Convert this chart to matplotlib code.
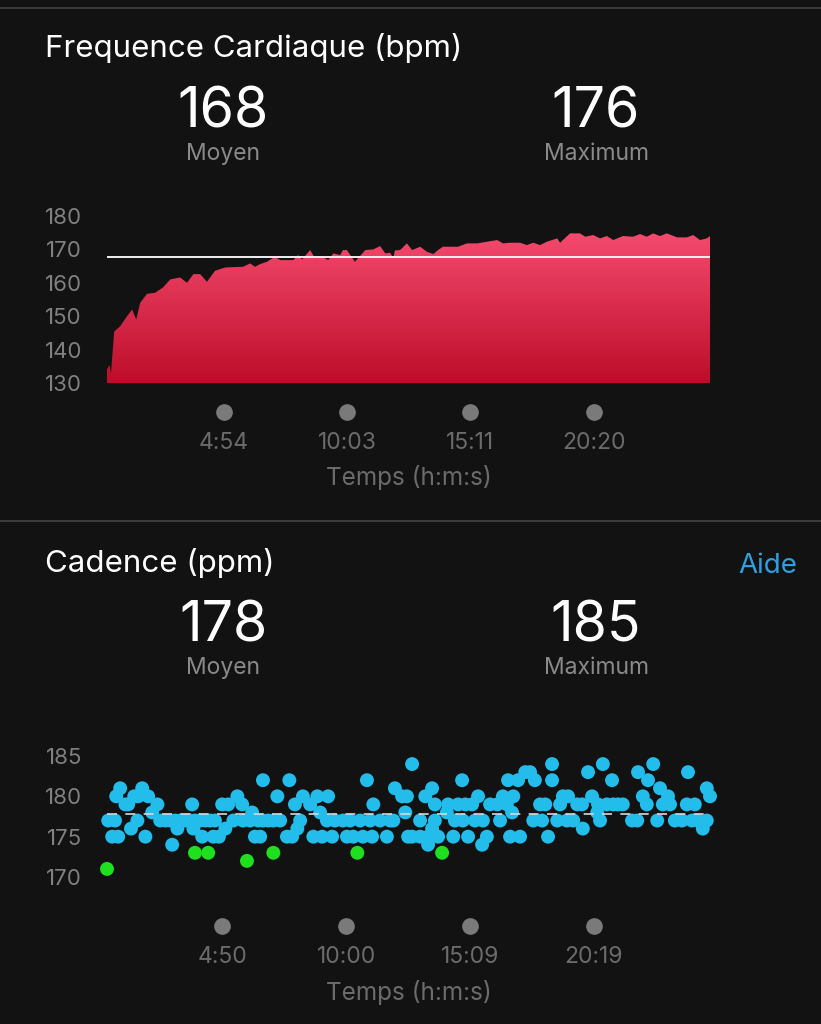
import numpy as np
import matplotlib
matplotlib.use("Agg")
import matplotlib.pyplot as plt
from matplotlib.colors import LinearSegmentedColormap
from matplotlib.transforms import blended_transform_factory

plt.rcParams['font.family'] = ['Inter', 'DejaVu Sans']

# ---- data ----
# heart rate: elapsed seconds / bpm
hr_t = [2, 8, 12, 20, 35, 52, 65, 75, 85, 102, 122, 142, 160, 185, 202, 218, 235, 252,
        272, 298, 342, 360, 372, 385, 402, 422, 435, 468, 480, 490, 510, 522, 542, 555,
        568, 585, 592, 602, 622, 648, 668, 685, 698, 710, 718, 722, 735, 752, 765, 785,
        802, 818, 830, 842, 880, 902, 928, 952, 978, 992, 1010, 1035, 1052, 1068, 1085,
        1102, 1128, 1135, 1160, 1185, 1198, 1218, 1235, 1252, 1268, 1292, 1318, 1335,
        1352, 1368, 1385, 1402, 1428, 1452, 1468, 1485, 1502, 1510]
hr_bpm = [134, 135.4, 133, 145.4, 147, 150, 152, 149, 154, 156.7, 157, 158.6, 161, 161.6,
          160, 162.6, 162.6, 160.3, 163.6, 164.6, 164.8, 165.8, 164.8, 165.6, 166.3, 167.8,
          166.8, 166.8, 168.3, 167, 169.8, 167.4, 167.7, 166.8, 168.8, 168.3, 169.8, 169.8,
          166.3, 169.8, 170, 171, 168.8, 169, 167.4, 169.7, 169.8, 171.8, 169.8, 170.8,
          169.3, 168.6, 169.8, 170.8, 170.8, 171.8, 171.8, 172.3, 172.8, 171.8, 172, 172,
          171.3, 172, 171.3, 172.3, 173.3, 172, 174.8, 174.8, 173.8, 174.3, 173.3, 174,
          172.8, 174, 173.8, 174.6, 173.8, 174.8, 174, 174.8, 173.6, 173.6, 174.3, 172.8,
          173.3, 174]
hr_avg_line = 167.8
hr_mean, hr_max = "168", "176"
hr_ticks = [294, 603, 911, 1220]
hr_yticks = [130, 140, 150, 160, 170, 180]

# cadence: elapsed seconds / steps per minute
cad_t = [2, 5, 22, 15, 30, 25, 35, 48, 55, 62, 78, 70, 80, 90, 98, 105, 115, 128,
         135, 148, 160, 172, 185, 198, 210, 222, 235, 248, 260, 272,
         165, 178, 215, 218, 222, 255, 240, 268, 282, 298, 290, 305, 328, 340, 318, 342,
         360, 365, 352, 372,
         380, 392, 405, 418, 435, 385, 392, 428, 418, 458, 452, 465, 478, 485, 472, 492,
         510, 528, 555, 535, 518, 540, 565,
         552, 572, 592, 610, 635, 660, 685, 710, 718,
         602, 618, 642, 665, 702, 652, 668, 628, 722, 740, 748, 752, 765, 755,
         785, 765, 785, 805, 805, 798, 815, 822, 822, 815, 830, 840, 852, 855,
         880, 898, 915, 930, 890, 872, 892, 922, 942, 868, 905, 952, 940, 960, 978,
         992, 1002, 1018, 1015, 985, 1005, 1010, 1035, 1030, 1048, 1060, 1072,
         1115, 1115, 1085, 1098, 1068, 1090, 1105, 1128, 1135, 1142,
         1155, 1152, 1168, 1178, 1190, 1192, 1205, 1215, 1228, 1235, 1230, 1242, 1265,
         1252, 1268, 1280, 1292, 1315, 1328, 1330, 1342, 1352, 1355, 1368, 1378, 1385,
         1405, 1392, 1410, 1422, 1440, 1455, 1452, 1472, 1465, 1480, 1492, 1502, 1510, 1502]
cad_spm = [171, 177, 177, 175, 175, 180, 181, 179, 179, 176, 177, 180, 180, 181, 175, 180, 178, 179,
           177, 177, 177, 177, 177, 177, 177, 177, 177, 177, 177, 177,
           174, 176, 179, 176, 173, 173, 175, 175, 175, 176, 179, 179, 180, 179, 177, 177,
           177, 178, 172, 175,
           177, 177, 177, 177, 177, 175, 182, 180, 173, 182, 175, 175, 176, 177, 179, 180,
           179, 180, 180, 178, 175, 175, 175,
           177, 177, 177, 177, 177, 177, 177, 177, 177,
           175, 175, 175, 175, 175, 182, 179, 173, 181, 180, 178, 180, 184, 175,
           177, 175, 175, 175, 174, 180, 181, 179, 177, 176, 175, 173, 178, 179,
           179, 179, 179, 180, 182, 177, 177, 177, 177, 175, 175, 175, 174, 179, 179,
           180, 179, 180, 178, 177, 182, 175, 175, 182, 183, 183, 182,
           184, 182, 179, 179, 177, 177, 175, 177, 179, 180,
           180, 177, 177, 179, 179, 176, 183, 180, 178, 177, 179, 184, 182,
           179, 179, 179, 179, 177, 177, 183, 180, 179, 182, 184, 177, 181,
           180, 179, 179, 177, 177, 183, 179, 179, 177, 177, 176, 181, 180, 177]
cad_avg_line = 177.8
cad_mean, cad_max = "178", "185"
cad_ticks = [290, 600, 909, 1219]
cad_yticks = [170, 175, 180, 185]

BG = '#121212'
W, H = 821, 1024


def fx(px):
    return px / W


def fy(py):
    return 1 - py / H


def mmss(s):
    return "%d:%02d" % (s // 60, s % 60)


fig = plt.figure(figsize=(W / 100, H / 100), dpi=100, facecolor=BG)

# separators
fig.add_artist(plt.Line2D([0, 1], [fy(8), fy(8)], color='#3a3a3a', lw=1.5))
fig.add_artist(plt.Line2D([0, 1], [fy(521), fy(521)], color='#3a3a3a', lw=1.5))

# headers
fig.text(fx(45), fy(48), "Frequence Cardiaque (bpm)", color='white', fontsize=22.5, va='center')
fig.text(fx(45), fy(563), "Cadence (ppm)", color='white', fontsize=22.5, va='center')
fig.text(fx(797), fy(566), "Aide", color='#2e9fe0', fontsize=20, va='center', ha='right')

for yv, yl, mean, mx in [(112, 154, hr_mean, hr_max), (626, 668, cad_mean, cad_max)]:
    fig.text(fx(223), fy(yv), mean, color='white', fontsize=40, ha='center', va='center')
    fig.text(fx(596), fy(yv), mx, color='white', fontsize=40, ha='center', va='center')
    fig.text(fx(223), fy(yl), "Moyen", color='#8a8a8a', fontsize=16.5, ha='center', va='center')
    fig.text(fx(596), fy(yl), "Maximum", color='#8a8a8a', fontsize=16.5, ha='center', va='center')


def style_axes(ax, ticks, yticks, xpad, lpad):
    ax.set_facecolor(BG)
    for s in ax.spines.values():
        s.set_visible(False)
    ax.set_yticks(yticks)
    ax.tick_params(axis='y', length=0, pad=18, labelsize=16, labelcolor='#808080')
    ax.set_xticks(ticks)
    ax.set_xticklabels([mmss(t) for t in ticks])
    ax.tick_params(axis='x', length=0, pad=xpad, labelsize=16.5, labelcolor='#6b6b6b')
    ax.set_xlabel("Temps (h:m:s)", color='#6b6b6b', fontsize=17.5, labelpad=lpad)


# ---- heart rate ----
ax1 = fig.add_axes([fx(107), fy(383), fx(710) - fx(107), (383 - 216) / H])
style_axes(ax1, hr_ticks, hr_yticks, 35, 8)

poly = ax1.fill_between(hr_t, 130, hr_bpm, color='none', lw=0)
grad = LinearSegmentedColormap.from_list('hr', ['#bd0d2a', '#f64c70'])
im = ax1.imshow(np.linspace(0, 1, 256).reshape(-1, 1), cmap=grad, origin='lower',
                extent=[2, 1510, 130, 176], aspect='auto', zorder=1)
im.set_clip_path(poly.get_paths()[0], transform=ax1.transData)
ax1.set_xlim(2, 1510)
ax1.set_ylim(130, 180)
ax1.axhline(hr_avg_line, color='#f0f0f0', lw=1.4, zorder=3)

tr1 = blended_transform_factory(ax1.transData, ax1.transAxes)
ax1.plot(hr_ticks, [-(412 - 383) / 167] * len(hr_ticks), 'o', color='#7a7a7a', ms=11,
         transform=tr1, clip_on=False)

# ---- cadence ----
ax2 = fig.add_axes([fx(107), fy(877), fx(710) - fx(107), (877 - 756) / H])
style_axes(ax2, cad_ticks, cad_yticks, 50, 8)

cad_spm = np.array(cad_spm)
colors = np.where(cad_spm < 174, '#1fe01f', '#22bdeb')
ax2.scatter(cad_t, cad_spm, s=100, c=colors, linewidths=0, clip_on=False, zorder=2)
ax2.axhline(cad_avg_line, color='#d8d8d8', lw=1.2, dashes=(6, 5), zorder=3)
ax2.set_xlim(2, 1510)
ax2.set_ylim(170, 185)

tr2 = blended_transform_factory(ax2.transData, ax2.transAxes)
ax2.plot(cad_ticks, [-(926 - 877) / 121] * len(cad_ticks), 'o', color='#7a7a7a', ms=11,
         transform=tr2, clip_on=False)

fig.savefig("out.png", dpi=100, facecolor=BG)
